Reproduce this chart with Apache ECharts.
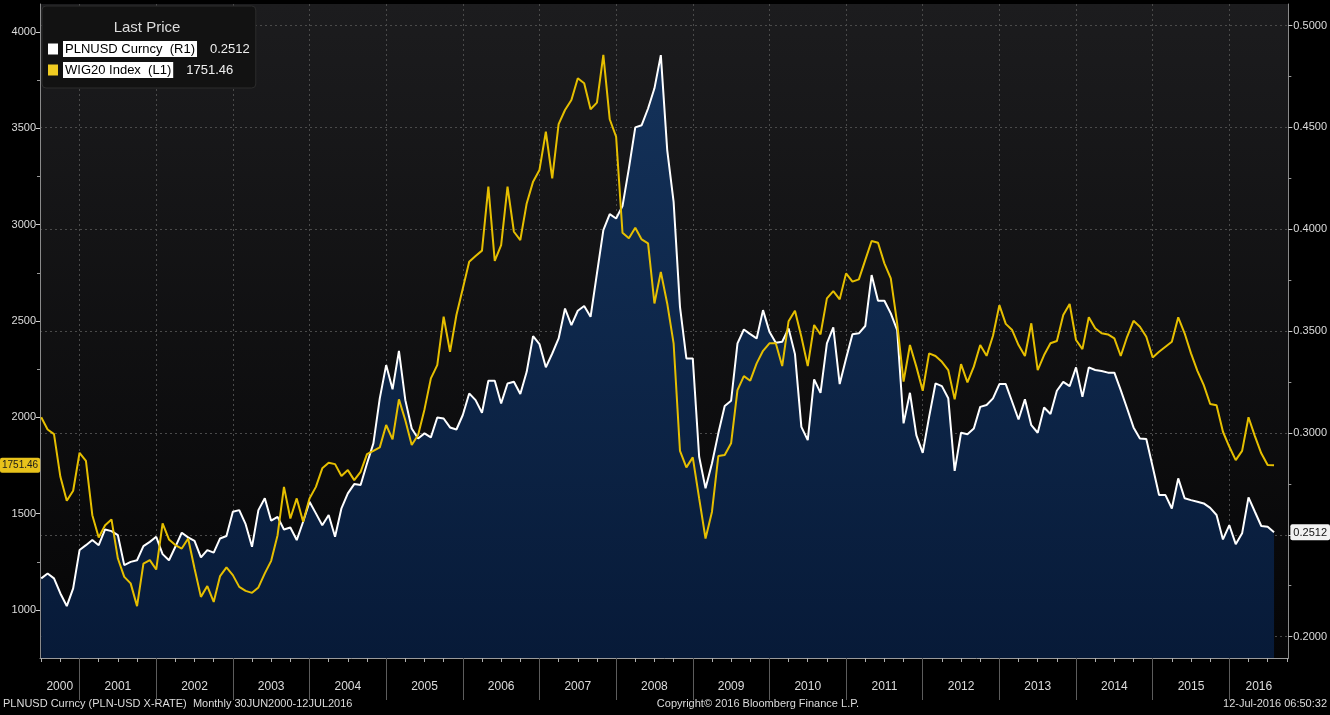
<!DOCTYPE html>
<html>
<head>
<meta charset="utf-8">
<script src="https://cdn.jsdelivr.net/npm/echarts@6.0.0/dist/echarts.min.js"></script>
<style>
  html, body { margin: 0; padding: 0; background: #000; }
  #chart { width: 1330px; height: 715px; }
</style>
</head>
<body>
<div id="chart"></div>
<script type="text/javascript">
  // monthly closes, 30JUN2000 .. JUL2016
  var startYear = 2000, startMonth = 6;

  var plnusd = [
    0.2286, 0.2310, 0.2286, 0.2212, 0.2150, 0.2237, 0.2425, 0.2449, 0.2474, 0.2449, 0.2526, 0.2518,
    0.2498, 0.2351, 0.2367, 0.2375, 0.2444, 0.2465, 0.2490, 0.2405, 0.2375, 0.2441, 0.2510, 0.2487,
    0.2470, 0.2389, 0.2425, 0.2412, 0.2482, 0.2494, 0.2613, 0.2621, 0.2552, 0.2441, 0.2621, 0.2679,
    0.2569, 0.2588, 0.2526, 0.2536, 0.2474, 0.2564, 0.2662, 0.2605, 0.2547, 0.2597, 0.2490, 0.2630,
    0.2703, 0.2749, 0.2744, 0.2850, 0.2949, 0.3170, 0.3333, 0.3214, 0.3403, 0.3161, 0.3022, 0.2973,
    0.2998, 0.2978, 0.3076, 0.3071, 0.3027, 0.3017, 0.3088, 0.3194, 0.3161, 0.3099, 0.3256, 0.3256,
    0.3145, 0.3243, 0.3251, 0.3191, 0.3300, 0.3475, 0.3436, 0.3322, 0.3390, 0.3464, 0.3611, 0.3529,
    0.3600, 0.3623, 0.3570, 0.3783, 0.3996, 0.4074, 0.4053, 0.4114, 0.4299, 0.4500, 0.4511, 0.4593,
    0.4692, 0.4855, 0.4389, 0.4135, 0.3619, 0.3366, 0.3366, 0.2883, 0.2728, 0.2850, 0.2998, 0.3132,
    0.3158, 0.3440, 0.3508, 0.3485, 0.3464, 0.3603, 0.3497, 0.3443, 0.3448, 0.3513, 0.3387, 0.3030,
    0.2965, 0.3263, 0.3197, 0.3440, 0.3518, 0.3240, 0.3366, 0.3485, 0.3489, 0.3525, 0.3775, 0.3649,
    0.3649, 0.3587, 0.3505, 0.3047, 0.3197, 0.2989, 0.2902, 0.3079, 0.3243, 0.3230, 0.3170, 0.2814,
    0.3001, 0.2994, 0.3022, 0.3128, 0.3137, 0.3170, 0.3240, 0.3240, 0.3153, 0.3066, 0.3165, 0.3038,
    0.3001, 0.3125, 0.3093, 0.3207, 0.3251, 0.3230, 0.3322, 0.3177, 0.3322, 0.3309, 0.3304, 0.3296,
    0.3296, 0.3210, 0.3120, 0.3027, 0.2973, 0.2970, 0.2834, 0.2695, 0.2695, 0.2629, 0.2777, 0.2679,
    0.2670, 0.2662, 0.2654, 0.2632, 0.2597, 0.2477, 0.2547, 0.2454, 0.2507, 0.2684, 0.2613, 0.2543,
    0.2539, 0.2512
  ];

  var wig20 = [
    2000, 1937, 1913, 1691, 1567, 1619, 1816, 1774, 1492, 1376, 1440, 1470,
    1267, 1172, 1138, 1020, 1241, 1259, 1210, 1449, 1366, 1337, 1319, 1371,
    1215, 1068, 1124, 1042, 1176, 1221, 1181, 1120, 1099, 1089, 1117, 1190,
    1255, 1388, 1639, 1475, 1579, 1458, 1579, 1639, 1735, 1764, 1757, 1695,
    1726, 1674, 1717, 1809, 1826, 1844, 1960, 1885, 2093, 1985, 1856, 1908,
    2041, 2202, 2271, 2522, 2340, 2531, 2669, 2807, 2837, 2865, 3197, 2812,
    2894, 3197, 2963, 2920, 3110, 3223, 3284, 3482, 3240, 3522, 3595, 3647,
    3760, 3734, 3599, 3633, 3881, 3547, 3456, 2958, 2929, 2984, 2923, 2903,
    2591, 2755, 2591, 2384, 1826, 1740, 1792, 1579, 1371, 1509, 1799, 1804,
    1865, 2141, 2214, 2190, 2280, 2345, 2384, 2384, 2266, 2499, 2553, 2418,
    2266, 2479, 2430, 2617, 2655, 2612, 2747, 2704, 2716, 2816, 2915, 2906,
    2799, 2721, 2488, 2185, 2375, 2263, 2138, 2332, 2318, 2288, 2245, 2093,
    2276, 2181, 2263, 2375, 2319, 2423, 2582, 2485, 2453, 2375, 2318, 2488,
    2245, 2323, 2384, 2396, 2531, 2588, 2401, 2354, 2519, 2462, 2436, 2430,
    2410, 2318, 2418, 2501, 2470, 2418, 2311, 2340, 2366, 2392, 2519, 2436,
    2332, 2241, 2167, 2069, 2063, 1925, 1847, 1778, 1826, 2000, 1902, 1813,
    1752, 1751.46
  ];

  var years = [2000, 2001, 2002, 2003, 2004, 2005, 2006, 2007, 2008, 2009, 2010, 2011, 2012, 2013, 2014, 2015, 2016];
  var leftTicks = [1000, 1500, 2000, 2500, 3000, 3500, 4000];
  var rightTicks = [0.20, 0.25, 0.30, 0.35, 0.40, 0.45, 0.50];

  var plnName = 'PLNUSD Curncy  (R1)';
  var wigName = 'WIG20 Index  (L1)';
  var FONT = '"Liberation Sans Narrow", "Liberation Sans", sans-serif';

  // x axis works in decimal years, a month-end sits at year + month/12
  var xMin = 2000.484, xMax = 2016.77;
  var xs = [];
  for (var i = 0; i < plnusd.length; i++) {
    xs.push(startYear + (startMonth + i) / 12);
  }
  var yearBounds = years.filter(function (y) { return y > xMin && y < xMax; });
  var quarterBounds = [];
  for (var q = Math.ceil(xMin * 4); q <= Math.floor(xMax * 4); q++) {
    if (q % 4 !== 0) quarterBounds.push(q / 4);
  }
  // year names sit in the middle of the visible part of each year
  var labelPos = years.map(function (y) {
    return (Math.max(y, xMin) + Math.min(y + 1, xMax)) / 2;
  });

  var plnData = xs.map(function (x, i) { return [x, plnusd[i]]; });
  var wigData = xs.map(function (x, i) { return [x, wig20[i]]; });
  var plnLast = plnusd[plnusd.length - 1];
  var wigLast = wig20[wig20.length - 1];
  var lastText = {};
  lastText[plnName] = plnLast.toFixed(4);
  lastText[wigName] = wigLast.toFixed(2);

  var myChart = echarts.init(document.getElementById('chart'));
  myChart.setOption({
    backgroundColor: '#000',
    animation: false,
    textStyle: { fontFamily: FONT },
    grid: {
      left: 40, right: 38, top: 4, bottom: 57,
      show: true, borderWidth: 0,
      backgroundColor: new echarts.graphic.LinearGradient(0, 0, 0, 1, [
        { offset: 0, color: '#1c1c1e' },
        { offset: 1, color: '#050506' }
      ])
    },
    legend: {
      left: 42, top: 6,
      orient: 'vertical',
      selectedMode: false,
      icon: 'rect',
      itemWidth: 10, itemHeight: 11, itemGap: 5,
      padding: [35, 6, 10, 6],
      backgroundColor: '#121212',
      borderColor: '#2c2c2c', borderWidth: 1, borderRadius: 4,
      data: [plnName, wigName],
      formatter: function (name) {
        return '{n|' + name + '}{v|' + lastText[name] + '}';
      },
      textStyle: {
        rich: {
          n: { color: '#000', backgroundColor: '#fff', fontSize: 13, fontFamily: FONT, padding: [2, 2, 1, 2], lineHeight: 17 },
          v: { color: '#eee', fontSize: 13, fontFamily: FONT, padding: [0, 0, 0, 13], lineHeight: 17 }
        }
      }
    },
    xAxis: [
      {
        type: 'value', min: xMin, max: xMax, position: 'bottom',
        axisLine: { show: true, onZero: false, lineStyle: { color: '#9a9a9a' } },
        axisTick: { show: true, customValues: yearBounds, length: 42, lineStyle: { color: '#5c5c5c' } },
        axisLabel: {
          customValues: labelPos,
          formatter: function (v) { return String(Math.floor(v)); },
          color: '#dcdcdc', fontSize: 12, margin: 23
        },
        splitLine: { show: true, lineStyle: { color: '#4a4a4a', type: [2, 3] } }
      },
      {
        type: 'value', min: xMin, max: xMax, position: 'bottom',
        axisLine: { show: false, onZero: false },
        axisTick: { show: true, customValues: quarterBounds, length: 4, lineStyle: { color: '#b0b0b0' } },
        axisLabel: { show: false },
        splitLine: { show: false }
      }
    ],
    yAxis: [
      {
        type: 'value', position: 'left',
        min: 750.8, max: 4145, minInterval: 500, maxInterval: 500,
        axisLine: { show: true, lineStyle: { color: '#8a8a8a' } },
        axisTick: { show: true, customValues: leftTicks, length: 4, lineStyle: { color: '#cfcfcf' } },
        minorTick: { show: true, splitNumber: 2, length: 3, lineStyle: { color: '#9a9a9a' } },
        axisLabel: {
          customValues: leftTicks,
          formatter: function (v) { return String(v); },
          color: '#dcdcdc', fontSize: 11, margin: 4
        },
        splitLine: { show: false },
        axisPointer: {
          show: true, type: 'none', status: 'show', value: wigLast, snap: false, triggerTooltip: false,
          handle: { show: false },
          label: {
            show: true,
            formatter: function (p) { return Number(p.value).toFixed(2); },
            backgroundColor: '#e8c21b', color: '#1a1a1a', fontSize: 10, fontFamily: FONT,
            padding: [3, 2, 2, 2], margin: 2, borderRadius: 2
          }
        }
      },
      {
        type: 'value', position: 'right',
        min: 0.1895, max: 0.5106, minInterval: 0.05, maxInterval: 0.05,
        axisLine: { show: true, lineStyle: { color: '#8a8a8a' } },
        axisTick: { show: true, customValues: rightTicks, length: 4, lineStyle: { color: '#cfcfcf' } },
        minorTick: { show: true, splitNumber: 2, length: 3, lineStyle: { color: '#9a9a9a' } },
        axisLabel: {
          customValues: rightTicks,
          formatter: function (v) { return v.toFixed(4); },
          color: '#dcdcdc', fontSize: 11, margin: 5
        },
        splitLine: { show: true, lineStyle: { color: '#4a4a4a', type: [2, 3] } },
        axisPointer: {
          show: true, type: 'none', status: 'show', value: plnLast, snap: false, triggerTooltip: false,
          handle: { show: false },
          label: {
            show: true,
            formatter: function (p) { return Number(p.value).toFixed(4); },
            backgroundColor: '#f2f2f2', color: '#111', fontSize: 11, fontFamily: FONT,
            padding: [3, 3, 2, 3], margin: 2, borderRadius: 2
          }
        }
      }
    ],
    series: [
      {
        name: plnName, type: 'line', xAxisIndex: 0, yAxisIndex: 1,
        data: plnData, showSymbol: false, symbol: 'none',
        lineStyle: { color: '#ffffff', width: 2 },
        itemStyle: { color: '#ffffff' },
        areaStyle: {
          origin: 'start', opacity: 1,
          color: new echarts.graphic.LinearGradient(0, 0, 0, 1, [
            { offset: 0, color: '#14325a' },
            { offset: 1, color: '#071a38' }
          ])
        },
        z: 2
      },
      {
        name: wigName, type: 'line', xAxisIndex: 0, yAxisIndex: 0,
        data: wigData, showSymbol: false, symbol: 'none',
        lineStyle: { color: '#e6bf00', width: 2 },
        itemStyle: { color: '#f0cc22' },
        z: 3
      }
    ],
    graphic: [
      { type: 'text', x: 147, y: 28, z: 100, style: { text: 'Last Price', fill: '#dcdcdc', font: '15px ' + FONT, align: 'center', verticalAlign: 'middle' } },
      { type: 'text', x: 3, y: 704, style: { text: 'PLNUSD Curncy (PLN-USD X-RATE)  Monthly 30JUN2000-12JUL2016', fill: '#dcdcdc', font: '11px ' + FONT, align: 'left', verticalAlign: 'middle' } },
      { type: 'text', x: 758, y: 704, style: { text: 'Copyright\u00a9 2016 Bloomberg Finance L.P.', fill: '#dcdcdc', font: '11px ' + FONT, align: 'center', verticalAlign: 'middle' } },
      { type: 'text', x: 1327, y: 704, style: { text: '12-Jul-2016 06:50:32', fill: '#dcdcdc', font: '11px ' + FONT, align: 'right', verticalAlign: 'middle' } }
    ]
  });
</script>
</body>
</html>
